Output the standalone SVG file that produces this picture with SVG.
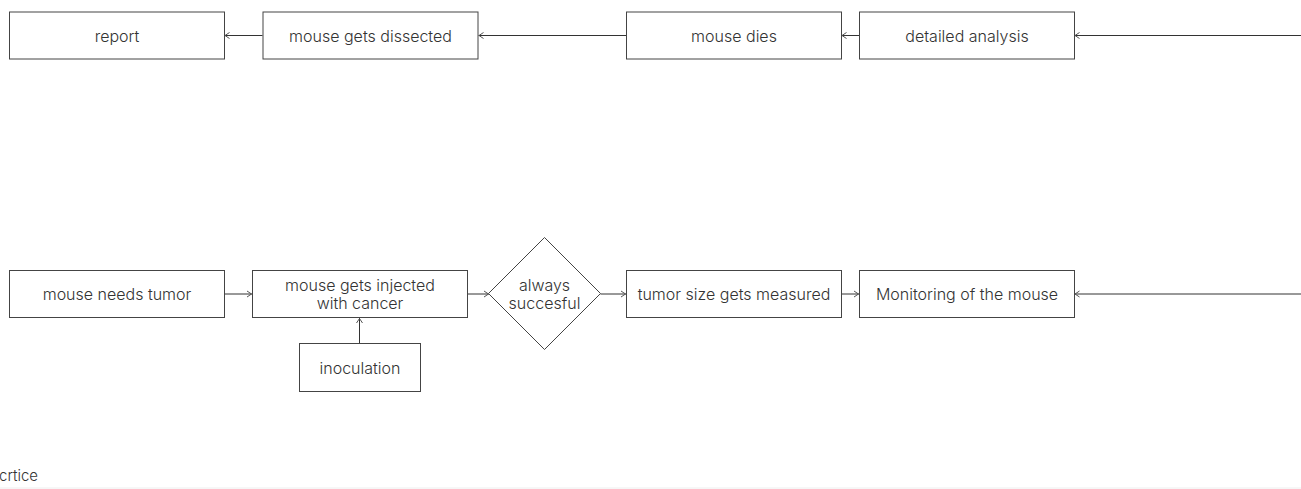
<svg xmlns="http://www.w3.org/2000/svg" width="1301" height="489" viewBox="0 0 1301 489">
<style>
.box{fill:#fff;stroke:#444;stroke-width:1}
.t{font-family:Inter,"Liberation Sans",sans-serif;font-size:16px;font-weight:300;fill:#333;text-anchor:middle;dominant-baseline:central}
.c{fill:none;stroke:#333;stroke-width:1}
</style>
<defs>
<marker id="ah" viewBox="0 0 6 8" refX="6" refY="4" markerWidth="6" markerHeight="8" markerUnits="userSpaceOnUse" orient="auto">
<path d="M1,1 L5.5,4 L1,7" fill="none" stroke="#555" stroke-width="1"/>
</marker>
</defs>
<rect width="1301" height="489" fill="#fff"/>
<g id="connectors">
<path class="c" d="M1301,35.5 H1074.5" marker-end="url(#ah)"/>
<path class="c" d="M859.5,35.5 H841.5" marker-end="url(#ah)"/>
<path class="c" d="M626.5,35.5 H478.5" marker-end="url(#ah)"/>
<path class="c" d="M262.5,35.5 H224.5" marker-end="url(#ah)"/>
<path class="c" d="M224.5,294 H252" marker-end="url(#ah)"/>
<path class="c" d="M467.5,294 H489" marker-end="url(#ah)"/>
<path class="c" d="M600.5,294 H626" marker-end="url(#ah)"/>
<path class="c" d="M841.5,294 H859" marker-end="url(#ah)"/>
<path class="c" d="M1301,294 H1074.5" marker-end="url(#ah)"/>
<path class="c" d="M359.5,343.5 V318" marker-end="url(#ah)"/>
</g>
<g id="report"><rect class="box" x="9.5" y="12" width="215" height="47"/><text class="t" x="117" y="35.5">report</text></g>
<g id="dissected"><rect class="box" x="263" y="12" width="215" height="47"/><text class="t" x="370.5" y="35.5">mouse gets dissected</text></g>
<g id="dies"><rect class="box" x="626.5" y="12" width="215" height="47"/><text class="t" x="734" y="35.5">mouse dies</text></g>
<g id="analysis"><rect class="box" x="859.5" y="12" width="215" height="47"/><text class="t" x="967" y="35.5">detailed analysis</text></g>
<g id="needs"><rect class="box" x="9.5" y="270.5" width="215" height="47"/><text class="t" x="117" y="294">mouse needs tumor</text></g>
<g id="injected"><rect class="box" x="252.5" y="270.5" width="215" height="47"/><text class="t" x="360" y="285">mouse gets injected</text><text class="t" x="360" y="303">with cancer</text></g>
<g id="decision"><polygon class="box" points="544.5,237.5 600.5,293.5 544.5,349.5 488.5,293.5"/><text class="t" x="544.5" y="285">always</text><text class="t" x="544.5" y="303">succesful</text></g>
<g id="measured"><rect class="box" x="626.5" y="270.5" width="215" height="47"/><text class="t" x="734" y="294">tumor size gets measured</text></g>
<g id="monitoring"><rect class="box" x="859.5" y="270.5" width="215" height="47"/><text class="t" x="967" y="294">Monitoring of the mouse</text></g>
<g id="inoculation"><rect class="box" x="299.5" y="343.5" width="121" height="48"/><text class="t" x="360" y="367.5">inoculation</text></g>
<text x="-1" y="481" style="font-family:Inter,'Liberation Sans',sans-serif;font-size:15px;font-weight:300;fill:#333">crtice</text>
<line x1="0" y1="488" x2="1301" y2="488" stroke="#eee" stroke-width="1"/>
</svg>
